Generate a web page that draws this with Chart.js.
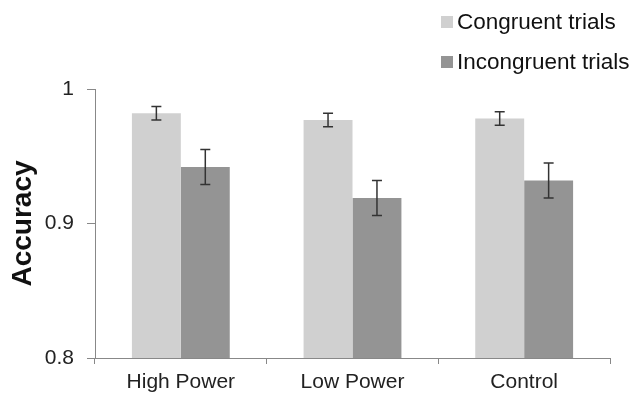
<!DOCTYPE html>
<html>
<head>
<meta charset="utf-8">
<script src="https://cdn.jsdelivr.net/npm/chart.js@4"></script>
<style>
  html, body { margin: 0; padding: 0; background: #fff; }
  #wrap { width: 633px; height: 394px; }
</style>
</head>
<body>
<div id="wrap"><canvas id="accuracyChart" width="633" height="394"></canvas></div>
<script>
const categories = ['High Power', 'Low Power', 'Control'];
const seriesNames = ['Congruent trials', 'Incongruent trials'];
const congruent = [0.982, 0.977, 0.978];
const incongruent = [0.942, 0.919, 0.932];
const congruentErr = [0.005, 0.005, 0.005];
const incongruentErr = [0.013, 0.013, 0.013];
const yTicks = [0.8, 0.9, 1];

const FONT = '"Liberation Sans", Arial, sans-serif';
const errors = [congruentErr, incongruentErr];

// error bars on top of each bar
const errorBars = {
    id: 'errorBars',
    afterDatasetsDraw(chart) {
        const ctx = chart.ctx;
        const y = chart.scales.y;
        ctx.save();
        ctx.strokeStyle = '#333';
        ctx.lineWidth = 1.5;
        chart.data.datasets.forEach((ds, i) => {
            const meta = chart.getDatasetMeta(i);
            meta.data.forEach((bar, j) => {
                const v = ds.data[j];
                const e = errors[i][j];
                const top = y.getPixelForValue(v + e);
                const bot = y.getPixelForValue(v - e);
                ctx.beginPath();
                ctx.moveTo(bar.x, top); ctx.lineTo(bar.x, bot);
                ctx.moveTo(bar.x - 5, top); ctx.lineTo(bar.x + 5, top);
                ctx.moveTo(bar.x - 5, bot); ctx.lineTo(bar.x + 5, bot);
                ctx.stroke();
            });
        });
        ctx.restore();
    }
};

// stacked legend in the top right corner
const cornerLegend = {
    id: 'cornerLegend',
    afterDraw(chart) {
        const ctx = chart.ctx;
        ctx.save();
        ctx.font = '22.5px ' + FONT;
        ctx.textBaseline = 'middle';
        chart.data.datasets.forEach((ds, i) => {
            const cy = 22 + i * 40;
            ctx.fillStyle = ds.backgroundColor;
            ctx.fillRect(441, cy - 6, 12, 12);
            ctx.fillStyle = '#111';
            ctx.fillText(ds.label, 457, cy + 1);
        });
        ctx.restore();
    }
};

new Chart(document.getElementById('accuracyChart'), {
    type: 'bar',
    data: {
        labels: categories,
        datasets: [
            { label: seriesNames[0], data: congruent, backgroundColor: '#d0d0d0' },
            { label: seriesNames[1], data: incongruent, backgroundColor: '#949494' }
        ]
    },
    options: {
        responsive: false,
        animation: false,
        events: [],
        layout: { padding: { top: 89, right: 23, left: 0, bottom: 0 } },
        datasets: { bar: { categoryPercentage: 0.57, barPercentage: 1.0 } },
        plugins: {
            legend: { display: false },
            tooltip: { enabled: false }
        },
        scales: {
            x: {
                afterFit(axis) { axis.height = 36; },
                grid: { display: true, drawOnChartArea: false, drawTicks: true, tickLength: 6, color: '#888', offset: true },
                border: { display: true, color: '#888', width: 1 },
                ticks: { color: '#222', font: { family: FONT, size: 21 }, padding: 6 }
            },
            y: {
                min: 0.8,
                max: 1,
                afterBuildTicks(axis) { axis.ticks = yTicks.map(v => ({ value: v })); },
                afterFit(axis) { axis.width = 95; },
                grid: { display: true, drawOnChartArea: false, drawTicks: true, tickLength: 8, color: '#888' },
                border: { display: true, color: '#888', width: 1 },
                ticks: {
                    color: '#222',
                    font: { family: FONT, size: 21 },
                    padding: 13,
                    callback: v => String(+v.toFixed(1))
                },
                title: {
                    display: true,
                    text: 'Accuracy',
                    color: '#111',
                    font: { family: FONT, size: 28, weight: 'bold' },
                    padding: { top: 6, bottom: 0 }
                }
            }
        }
    },
    plugins: [errorBars, cornerLegend]
});
</script>
</body>
</html>
